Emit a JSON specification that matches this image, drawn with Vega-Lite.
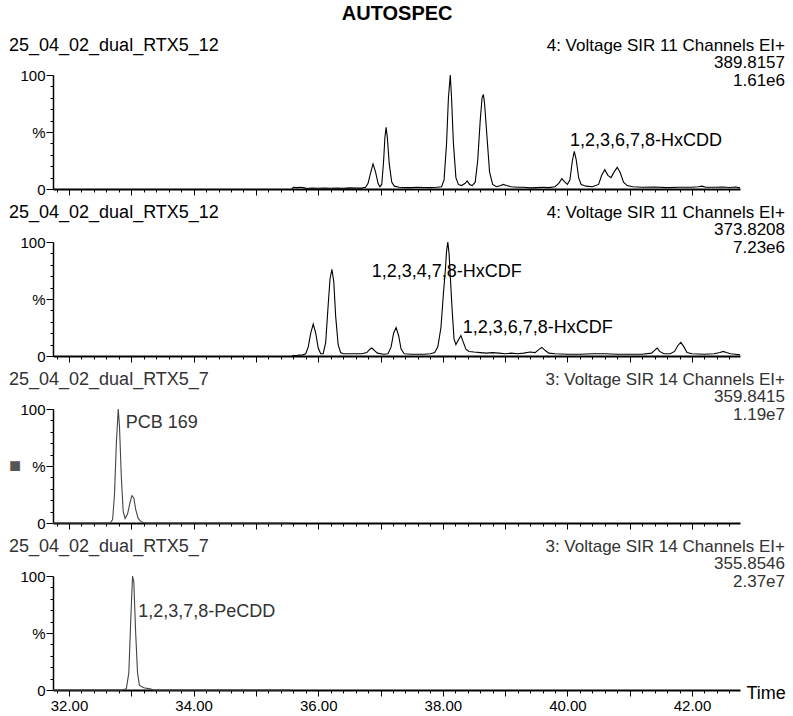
{
  "$schema": "https://vega.github.io/schema/vega-lite/v6.json",
  "padding": {"left": 9, "top": 3, "right": 4, "bottom": 4},
  "background": "white",
  "title": {"text": "AUTOSPEC", "fontSize": 20, "fontWeight": "bold", "font": "Liberation Sans", "anchor": "middle", "offset": 13, "color": "#000"},
  "bounds": "flush",
  "spacing": 53,
  "config": {
    "view": {"stroke": null},
    "font": "Liberation Sans",
    "text": {"font": "Liberation Sans", "fontSize": 18},
    "axis": {
      "grid": false,
      "domainColor": "#000",
      "tickColor": "#000",
      "tickWidth": 1,
      "labelOverlap": false,
      "labelBound": false,
      "labelFlush": false,
      "labelFont": "Liberation Sans",
      "labelColor": "#000",
      "title": null
    }
  },
  "vconcat": [
    {
      "width": 687, "height": 114,
      "resolve": {"axis": {"x": "independent", "y": "independent"}},
      "layer": [
        {
          "data": {"values": [
            {"t": 35.58, "v": 0}, {"t": 35.6, "v": 1.5}, {"t": 35.66, "v": 1.2}, {"t": 35.72, "v": 1.5}, {"t": 35.78, "v": 1}, {"t": 35.82, "v": 0.5}, {"t": 35.9, "v": 0.8}, {"t": 36.0, "v": 0.6}, {"t": 36.1, "v": 0.8}, {"t": 36.2, "v": 0.6}, {"t": 36.3, "v": 0.9}, {"t": 36.4, "v": 0.7}, {"t": 36.5, "v": 1}, {"t": 36.6, "v": 0.8}, {"t": 36.7, "v": 0.8}, {"t": 36.76, "v": 1.5}, {"t": 36.8, "v": 5}, {"t": 36.84, "v": 14}, {"t": 36.88, "v": 22}, {"t": 36.92, "v": 15}, {"t": 36.96, "v": 5}, {"t": 36.99, "v": 2}, {"t": 37.02, "v": 4}, {"t": 37.05, "v": 25}, {"t": 37.07, "v": 45}, {"t": 37.09, "v": 54}, {"t": 37.11, "v": 45}, {"t": 37.14, "v": 22}, {"t": 37.18, "v": 6}, {"t": 37.22, "v": 2.5}, {"t": 37.3, "v": 1.5}, {"t": 37.4, "v": 1.2}, {"t": 37.5, "v": 1.2}, {"t": 37.6, "v": 1.5}, {"t": 37.7, "v": 1.3}, {"t": 37.8, "v": 1.2}, {"t": 37.9, "v": 1.5}, {"t": 37.98, "v": 2}, {"t": 38.02, "v": 8}, {"t": 38.06, "v": 40}, {"t": 38.09, "v": 80}, {"t": 38.12, "v": 100}, {"t": 38.14, "v": 80}, {"t": 38.17, "v": 40}, {"t": 38.21, "v": 10}, {"t": 38.25, "v": 4}, {"t": 38.3, "v": 3}, {"t": 38.36, "v": 5}, {"t": 38.39, "v": 7}, {"t": 38.43, "v": 4}, {"t": 38.47, "v": 3}, {"t": 38.52, "v": 6}, {"t": 38.56, "v": 25}, {"t": 38.6, "v": 60}, {"t": 38.63, "v": 80}, {"t": 38.65, "v": 83}, {"t": 38.67, "v": 75}, {"t": 38.71, "v": 45}, {"t": 38.75, "v": 15}, {"t": 38.8, "v": 4}, {"t": 38.86, "v": 2}, {"t": 38.93, "v": 3}, {"t": 38.97, "v": 4}, {"t": 39.02, "v": 3}, {"t": 39.1, "v": 2}, {"t": 39.2, "v": 1.5}, {"t": 39.3, "v": 1.5}, {"t": 39.4, "v": 1}, {"t": 39.5, "v": 1.2}, {"t": 39.6, "v": 1.5}, {"t": 39.7, "v": 1.2}, {"t": 39.8, "v": 2}, {"t": 39.86, "v": 5}, {"t": 39.91, "v": 9}, {"t": 39.96, "v": 6}, {"t": 40.0, "v": 4}, {"t": 40.04, "v": 8}, {"t": 40.08, "v": 25}, {"t": 40.11, "v": 33}, {"t": 40.14, "v": 26}, {"t": 40.18, "v": 10}, {"t": 40.22, "v": 4}, {"t": 40.3, "v": 2.5}, {"t": 40.4, "v": 2}, {"t": 40.5, "v": 4}, {"t": 40.55, "v": 12}, {"t": 40.6, "v": 17}, {"t": 40.65, "v": 12}, {"t": 40.7, "v": 10}, {"t": 40.75, "v": 15}, {"t": 40.8, "v": 19}, {"t": 40.85, "v": 14}, {"t": 40.9, "v": 6}, {"t": 40.96, "v": 3}, {"t": 41.05, "v": 2}, {"t": 41.2, "v": 1.5}, {"t": 41.4, "v": 1.8}, {"t": 41.6, "v": 1.2}, {"t": 41.8, "v": 1.5}, {"t": 42.0, "v": 1.5}, {"t": 42.1, "v": 2}, {"t": 42.16, "v": 2.5}, {"t": 42.22, "v": 1.5}, {"t": 42.35, "v": 1.5}, {"t": 42.5, "v": 1.8}, {"t": 42.6, "v": 1.3}, {"t": 42.7, "v": 1.8}, {"t": 42.77, "v": 1}
          ]},
          "mark": {"type": "line", "color": "#000", "strokeWidth": 1.1},
          "encoding": {
            "x": {"field": "t", "type": "quantitative", "scale": {"domain": [31.743, 42.77], "nice": false, "zero": false}, "axis": {"orient": "bottom", "values": [32, 33, 34, 35, 36, 37, 38, 39, 40, 41, 42], "tickSize": 6, "domainWidth": 2, "labels": false}},
            "y": {"field": "v", "type": "quantitative", "scale": {"domain": [0, 100], "nice": false}, "axis": {"orient": "left", "values": [0, 50, 100], "tickSize": 7, "domainWidth": 1.5, "labelFontSize": 15, "labelPadding": 1, "labelExpr": "datum.value == 50 ? '%' : datum.label"}}
          }
        },
        {
          "data": {"values": [{"label": "1,2,3,6,7,8-HxCDD", "t": 40.04, "v": 42}]},
          "mark": {"type": "text", "align": "left", "baseline": "middle", "color": "#000"},
          "encoding": {
            "x": {"field": "t", "type": "quantitative", "axis": {"orient": "bottom", "values": [31.8, 32.2, 32.4, 32.6, 32.8, 33.2, 33.4, 33.6, 33.8, 34.2, 34.4, 34.6, 34.8, 35.2, 35.4, 35.6, 35.8, 36.2, 36.4, 36.6, 36.8, 37.2, 37.4, 37.6, 37.8, 38.2, 38.4, 38.6, 38.8, 39.2, 39.4, 39.6, 39.8, 40.2, 40.4, 40.6, 40.8, 41.2, 41.4, 41.6, 41.8, 42.2, 42.4, 42.6], "tickSize": 3, "domain": false, "labels": false}},
            "y": {"field": "v", "type": "quantitative", "axis": {"orient": "left", "values": [10, 20, 30, 40, 60, 70, 80, 90], "tickSize": 3, "domain": false, "labels": false}},
            "text": {"field": "label"}
          }
        },
        {
          "data": {"values": [{"name": "25_04_02_dual_RTX5_12"}]},
          "mark": {"type": "text", "align": "left", "baseline": "middle", "dx": -44, "dy": -29, "color": "#000"},
          "encoding": {"x": {"datum": 31.743, "type": "quantitative", "axis": null}, "y": {"datum": 100, "type": "quantitative", "axis": null}, "text": {"field": "name"}}
        },
        {
          "data": {"values": [{"info": "4: Voltage SIR 11 Channels EI+"}]},
          "mark": {"type": "text", "align": "right", "baseline": "middle", "dx": 45, "dy": -29.5, "fontSize": 17, "color": "#000"},
          "encoding": {"x": {"datum": 42.77, "type": "quantitative", "axis": null}, "y": {"datum": 100, "type": "quantitative", "axis": null}, "text": {"field": "info"}}
        },
        {
          "data": {"values": [{"info": "389.8157"}]},
          "mark": {"type": "text", "align": "right", "baseline": "middle", "dx": 45, "dy": -12, "fontSize": 17, "color": "#000"},
          "encoding": {"x": {"datum": 42.77, "type": "quantitative", "axis": null}, "y": {"datum": 100, "type": "quantitative", "axis": null}, "text": {"field": "info"}}
        },
        {
          "data": {"values": [{"info": "1.61e6"}]},
          "mark": {"type": "text", "align": "right", "baseline": "middle", "dx": 45, "dy": 6, "fontSize": 17, "color": "#000"},
          "encoding": {"x": {"datum": 42.77, "type": "quantitative", "axis": null}, "y": {"datum": 100, "type": "quantitative", "axis": null}, "text": {"field": "info"}}
        }
      ]
    },
    {
      "width": 687, "height": 114,
      "resolve": {"axis": {"x": "independent", "y": "independent"}},
      "layer": [
        {
          "data": {"values": [
            {"t": 35.58, "v": 0.5}, {"t": 35.65, "v": 0.5}, {"t": 35.7, "v": 0.8}, {"t": 35.75, "v": 1}, {"t": 35.8, "v": 2}, {"t": 35.84, "v": 8}, {"t": 35.88, "v": 20}, {"t": 35.92, "v": 28}, {"t": 35.96, "v": 20}, {"t": 36.0, "v": 7}, {"t": 36.04, "v": 2}, {"t": 36.08, "v": 2}, {"t": 36.12, "v": 12}, {"t": 36.16, "v": 45}, {"t": 36.19, "v": 68}, {"t": 36.22, "v": 76}, {"t": 36.25, "v": 65}, {"t": 36.28, "v": 35}, {"t": 36.32, "v": 10}, {"t": 36.36, "v": 3}, {"t": 36.4, "v": 2}, {"t": 36.5, "v": 2}, {"t": 36.6, "v": 2}, {"t": 36.7, "v": 2}, {"t": 36.78, "v": 3}, {"t": 36.83, "v": 6}, {"t": 36.86, "v": 7}, {"t": 36.9, "v": 5}, {"t": 36.95, "v": 2.5}, {"t": 37.05, "v": 1.5}, {"t": 37.12, "v": 2}, {"t": 37.17, "v": 8}, {"t": 37.21, "v": 20}, {"t": 37.25, "v": 25}, {"t": 37.29, "v": 18}, {"t": 37.33, "v": 6}, {"t": 37.38, "v": 2}, {"t": 37.5, "v": 1.5}, {"t": 37.6, "v": 1.5}, {"t": 37.7, "v": 1.5}, {"t": 37.8, "v": 2}, {"t": 37.87, "v": 3}, {"t": 37.92, "v": 8}, {"t": 37.97, "v": 25}, {"t": 38.01, "v": 55}, {"t": 38.04, "v": 75}, {"t": 38.06, "v": 92}, {"t": 38.08, "v": 100}, {"t": 38.1, "v": 90}, {"t": 38.12, "v": 70}, {"t": 38.15, "v": 40}, {"t": 38.18, "v": 15}, {"t": 38.21, "v": 10}, {"t": 38.25, "v": 14}, {"t": 38.29, "v": 18}, {"t": 38.33, "v": 12}, {"t": 38.37, "v": 6}, {"t": 38.42, "v": 4}, {"t": 38.5, "v": 3.5}, {"t": 38.6, "v": 3}, {"t": 38.7, "v": 2.5}, {"t": 38.8, "v": 3}, {"t": 38.9, "v": 2.5}, {"t": 39.0, "v": 2}, {"t": 39.1, "v": 2.5}, {"t": 39.2, "v": 2}, {"t": 39.3, "v": 2.5}, {"t": 39.4, "v": 3.5}, {"t": 39.48, "v": 3}, {"t": 39.55, "v": 6}, {"t": 39.59, "v": 7.5}, {"t": 39.64, "v": 5}, {"t": 39.7, "v": 2.5}, {"t": 39.8, "v": 2}, {"t": 40.0, "v": 1.5}, {"t": 40.2, "v": 1.5}, {"t": 40.4, "v": 2}, {"t": 40.6, "v": 2}, {"t": 40.8, "v": 1.5}, {"t": 41.0, "v": 1.5}, {"t": 41.2, "v": 1.5}, {"t": 41.35, "v": 2.5}, {"t": 41.4, "v": 5}, {"t": 41.44, "v": 7}, {"t": 41.48, "v": 4}, {"t": 41.55, "v": 2}, {"t": 41.65, "v": 2}, {"t": 41.72, "v": 4}, {"t": 41.77, "v": 9}, {"t": 41.82, "v": 12}, {"t": 41.87, "v": 8}, {"t": 41.92, "v": 3}, {"t": 42.0, "v": 2}, {"t": 42.2, "v": 1.5}, {"t": 42.35, "v": 2}, {"t": 42.45, "v": 3}, {"t": 42.5, "v": 4}, {"t": 42.55, "v": 3}, {"t": 42.62, "v": 2}, {"t": 42.7, "v": 1.5}, {"t": 42.77, "v": 1}
          ]},
          "mark": {"type": "line", "color": "#000", "strokeWidth": 1.1},
          "encoding": {
            "x": {"field": "t", "type": "quantitative", "scale": {"domain": [31.743, 42.77], "nice": false, "zero": false}, "axis": {"orient": "bottom", "values": [32, 33, 34, 35, 36, 37, 38, 39, 40, 41, 42], "tickSize": 6, "domainWidth": 2, "labels": false}},
            "y": {"field": "v", "type": "quantitative", "scale": {"domain": [0, 100], "nice": false}, "axis": {"orient": "left", "values": [0, 50, 100], "tickSize": 7, "domainWidth": 1.5, "labelFontSize": 15, "labelPadding": 1, "labelExpr": "datum.value == 50 ? '%' : datum.label"}}
          }
        },
        {
          "data": {"values": [{"label": "1,2,3,4,7,8-HxCDF", "t": 36.86, "v": 74}, {"label": "1,2,3,6,7,8-HxCDF", "t": 38.32, "v": 25}]},
          "mark": {"type": "text", "align": "left", "baseline": "middle", "color": "#000"},
          "encoding": {
            "x": {"field": "t", "type": "quantitative", "axis": {"orient": "bottom", "values": [31.8, 32.2, 32.4, 32.6, 32.8, 33.2, 33.4, 33.6, 33.8, 34.2, 34.4, 34.6, 34.8, 35.2, 35.4, 35.6, 35.8, 36.2, 36.4, 36.6, 36.8, 37.2, 37.4, 37.6, 37.8, 38.2, 38.4, 38.6, 38.8, 39.2, 39.4, 39.6, 39.8, 40.2, 40.4, 40.6, 40.8, 41.2, 41.4, 41.6, 41.8, 42.2, 42.4, 42.6], "tickSize": 3, "domain": false, "labels": false}},
            "y": {"field": "v", "type": "quantitative", "axis": {"orient": "left", "values": [10, 20, 30, 40, 60, 70, 80, 90], "tickSize": 3, "domain": false, "labels": false}},
            "text": {"field": "label"}
          }
        },
        {
          "data": {"values": [{"name": "25_04_02_dual_RTX5_12"}]},
          "mark": {"type": "text", "align": "left", "baseline": "middle", "dx": -44, "dy": -29, "color": "#000"},
          "encoding": {"x": {"datum": 31.743, "type": "quantitative", "axis": null}, "y": {"datum": 100, "type": "quantitative", "axis": null}, "text": {"field": "name"}}
        },
        {
          "data": {"values": [{"info": "4: Voltage SIR 11 Channels EI+"}]},
          "mark": {"type": "text", "align": "right", "baseline": "middle", "dx": 45, "dy": -29.5, "fontSize": 17, "color": "#000"},
          "encoding": {"x": {"datum": 42.77, "type": "quantitative", "axis": null}, "y": {"datum": 100, "type": "quantitative", "axis": null}, "text": {"field": "info"}}
        },
        {
          "data": {"values": [{"info": "373.8208"}]},
          "mark": {"type": "text", "align": "right", "baseline": "middle", "dx": 45, "dy": -12, "fontSize": 17, "color": "#000"},
          "encoding": {"x": {"datum": 42.77, "type": "quantitative", "axis": null}, "y": {"datum": 100, "type": "quantitative", "axis": null}, "text": {"field": "info"}}
        },
        {
          "data": {"values": [{"info": "7.23e6"}]},
          "mark": {"type": "text", "align": "right", "baseline": "middle", "dx": 45, "dy": 6, "fontSize": 17, "color": "#000"},
          "encoding": {"x": {"datum": 42.77, "type": "quantitative", "axis": null}, "y": {"datum": 100, "type": "quantitative", "axis": null}, "text": {"field": "info"}}
        }
      ]
    },
    {
      "width": 687, "height": 114,
      "resolve": {"axis": {"x": "independent", "y": "independent"}},
      "layer": [
        {
          "data": {"values": [
            {"t": 31.743, "v": 0}, {"t": 32.5, "v": 0}, {"t": 32.66, "v": 0}, {"t": 32.7, "v": 3}, {"t": 32.73, "v": 25}, {"t": 32.76, "v": 70}, {"t": 32.79, "v": 100}, {"t": 32.81, "v": 85}, {"t": 32.84, "v": 40}, {"t": 32.87, "v": 10}, {"t": 32.9, "v": 4}, {"t": 32.94, "v": 8}, {"t": 32.98, "v": 18}, {"t": 33.01, "v": 24}, {"t": 33.04, "v": 22}, {"t": 33.07, "v": 12}, {"t": 33.11, "v": 4}, {"t": 33.16, "v": 1}, {"t": 33.22, "v": 0}, {"t": 35.55, "v": 0}
          ]},
          "mark": {"type": "line", "color": "#444", "strokeWidth": 1.1},
          "encoding": {
            "x": {"field": "t", "type": "quantitative", "scale": {"domain": [31.743, 42.77], "nice": false, "zero": false}, "axis": {"orient": "bottom", "values": [32, 33, 34, 35, 36, 37, 38, 39, 40, 41, 42], "tickSize": 6, "domainWidth": 2, "labels": false}},
            "y": {"field": "v", "type": "quantitative", "scale": {"domain": [0, 100], "nice": false}, "axis": {"orient": "left", "values": [0, 50, 100], "tickSize": 7, "domainWidth": 1.5, "labelFontSize": 15, "labelPadding": 1, "labelExpr": "datum.value == 50 ? '%' : datum.label"}}
          }
        },
        {
          "data": {"values": [{"label": "PCB 169", "t": 32.91, "v": 88}]},
          "mark": {"type": "text", "align": "left", "baseline": "middle", "color": "#333"},
          "encoding": {
            "x": {"field": "t", "type": "quantitative", "axis": {"orient": "bottom", "values": [31.8, 32.2, 32.4, 32.6, 32.8, 33.2, 33.4, 33.6, 33.8, 34.2, 34.4, 34.6, 34.8, 35.2, 35.4, 35.6, 35.8, 36.2, 36.4, 36.6, 36.8, 37.2, 37.4, 37.6, 37.8, 38.2, 38.4, 38.6, 38.8, 39.2, 39.4, 39.6, 39.8, 40.2, 40.4, 40.6, 40.8, 41.2, 41.4, 41.6, 41.8, 42.2, 42.4, 42.6], "tickSize": 3, "domain": false, "labels": false}},
            "y": {"field": "v", "type": "quantitative", "axis": {"orient": "left", "values": [10, 20, 30, 40, 60, 70, 80, 90], "tickSize": 3, "domain": false, "labels": false}},
            "text": {"field": "label"}
          }
        },
        {
          "data": {"values": [{"name": "25_04_02_dual_RTX5_7"}]},
          "mark": {"type": "text", "align": "left", "baseline": "middle", "dx": -44, "dy": -29, "color": "#333"},
          "encoding": {"x": {"datum": 31.743, "type": "quantitative", "axis": null}, "y": {"datum": 100, "type": "quantitative", "axis": null}, "text": {"field": "name"}}
        },
        {
          "data": {"values": [{"mark": "■"}]},
          "mark": {"type": "text", "align": "left", "baseline": "middle", "dx": -44, "fontSize": 20, "color": "#555"},
          "encoding": {"x": {"datum": 31.743, "type": "quantitative", "axis": null}, "y": {"datum": 50, "type": "quantitative", "axis": null}, "text": {"field": "mark"}}
        },
        {
          "data": {"values": [{"info": "3: Voltage SIR 14 Channels EI+"}]},
          "mark": {"type": "text", "align": "right", "baseline": "middle", "dx": 45, "dy": -29.5, "fontSize": 17, "color": "#333"},
          "encoding": {"x": {"datum": 42.77, "type": "quantitative", "axis": null}, "y": {"datum": 100, "type": "quantitative", "axis": null}, "text": {"field": "info"}}
        },
        {
          "data": {"values": [{"info": "359.8415"}]},
          "mark": {"type": "text", "align": "right", "baseline": "middle", "dx": 45, "dy": -12, "fontSize": 17, "color": "#333"},
          "encoding": {"x": {"datum": 42.77, "type": "quantitative", "axis": null}, "y": {"datum": 100, "type": "quantitative", "axis": null}, "text": {"field": "info"}}
        },
        {
          "data": {"values": [{"info": "1.19e7"}]},
          "mark": {"type": "text", "align": "right", "baseline": "middle", "dx": 45, "dy": 6, "fontSize": 17, "color": "#333"},
          "encoding": {"x": {"datum": 42.77, "type": "quantitative", "axis": null}, "y": {"datum": 100, "type": "quantitative", "axis": null}, "text": {"field": "info"}}
        }
      ]
    },
    {
      "width": 687, "height": 114,
      "resolve": {"axis": {"x": "independent", "y": "independent"}},
      "layer": [
        {
          "data": {"values": [
            {"t": 31.743, "v": 0}, {"t": 32.85, "v": 0}, {"t": 32.92, "v": 1}, {"t": 32.96, "v": 15}, {"t": 32.99, "v": 60}, {"t": 33.02, "v": 100}, {"t": 33.04, "v": 95}, {"t": 33.07, "v": 50}, {"t": 33.1, "v": 15}, {"t": 33.13, "v": 4}, {"t": 33.2, "v": 2}, {"t": 33.3, "v": 1}, {"t": 33.36, "v": 0}, {"t": 35.55, "v": 0}
          ]},
          "mark": {"type": "line", "color": "#444", "strokeWidth": 1.1},
          "encoding": {
            "x": {"field": "t", "type": "quantitative", "scale": {"domain": [31.743, 42.77], "nice": false, "zero": false}, "axis": {"orient": "bottom", "values": [32, 33, 34, 35, 36, 37, 38, 39, 40, 41, 42], "tickSize": 6, "domainWidth": 2, "labelFontSize": 15, "labelPadding": 2, "labelExpr": "datum.value % 2 == 0 ? format(datum.value, '.2f') : ''", "title": "Time", "titleAngle": 0, "titleAlign": "left", "titleBaseline": "middle", "titleX": 693, "titleY": 3, "titleFont": "Liberation Sans", "titleFontSize": 18, "titleFontWeight": "normal", "titleColor": "#000"}},
            "y": {"field": "v", "type": "quantitative", "scale": {"domain": [0, 100], "nice": false}, "axis": {"orient": "left", "values": [0, 50, 100], "tickSize": 7, "domainWidth": 1.5, "labelFontSize": 15, "labelPadding": 1, "labelExpr": "datum.value == 50 ? '%' : datum.label"}}
          }
        },
        {
          "data": {"values": [{"label": "1,2,3,7,8-PeCDD", "t": 33.11, "v": 68}]},
          "mark": {"type": "text", "align": "left", "baseline": "middle", "color": "#333"},
          "encoding": {
            "x": {"field": "t", "type": "quantitative", "axis": {"orient": "bottom", "values": [31.8, 32.2, 32.4, 32.6, 32.8, 33.2, 33.4, 33.6, 33.8, 34.2, 34.4, 34.6, 34.8, 35.2, 35.4, 35.6, 35.8, 36.2, 36.4, 36.6, 36.8, 37.2, 37.4, 37.6, 37.8, 38.2, 38.4, 38.6, 38.8, 39.2, 39.4, 39.6, 39.8, 40.2, 40.4, 40.6, 40.8, 41.2, 41.4, 41.6, 41.8, 42.2, 42.4, 42.6], "tickSize": 3, "domain": false, "labels": false}},
            "y": {"field": "v", "type": "quantitative", "axis": {"orient": "left", "values": [10, 20, 30, 40, 60, 70, 80, 90], "tickSize": 3, "domain": false, "labels": false}},
            "text": {"field": "label"}
          }
        },
        {
          "data": {"values": [{"name": "25_04_02_dual_RTX5_7"}]},
          "mark": {"type": "text", "align": "left", "baseline": "middle", "dx": -44, "dy": -29, "color": "#333"},
          "encoding": {"x": {"datum": 31.743, "type": "quantitative", "axis": null}, "y": {"datum": 100, "type": "quantitative", "axis": null}, "text": {"field": "name"}}
        },
        {
          "data": {"values": [{"info": "3: Voltage SIR 14 Channels EI+"}]},
          "mark": {"type": "text", "align": "right", "baseline": "middle", "dx": 45, "dy": -29.5, "fontSize": 17, "color": "#333"},
          "encoding": {"x": {"datum": 42.77, "type": "quantitative", "axis": null}, "y": {"datum": 100, "type": "quantitative", "axis": null}, "text": {"field": "info"}}
        },
        {
          "data": {"values": [{"info": "355.8546"}]},
          "mark": {"type": "text", "align": "right", "baseline": "middle", "dx": 45, "dy": -12, "fontSize": 17, "color": "#333"},
          "encoding": {"x": {"datum": 42.77, "type": "quantitative", "axis": null}, "y": {"datum": 100, "type": "quantitative", "axis": null}, "text": {"field": "info"}}
        },
        {
          "data": {"values": [{"info": "2.37e7"}]},
          "mark": {"type": "text", "align": "right", "baseline": "middle", "dx": 45, "dy": 6, "fontSize": 17, "color": "#333"},
          "encoding": {"x": {"datum": 42.77, "type": "quantitative", "axis": null}, "y": {"datum": 100, "type": "quantitative", "axis": null}, "text": {"field": "info"}}
        }
      ]
    }
  ]
}
